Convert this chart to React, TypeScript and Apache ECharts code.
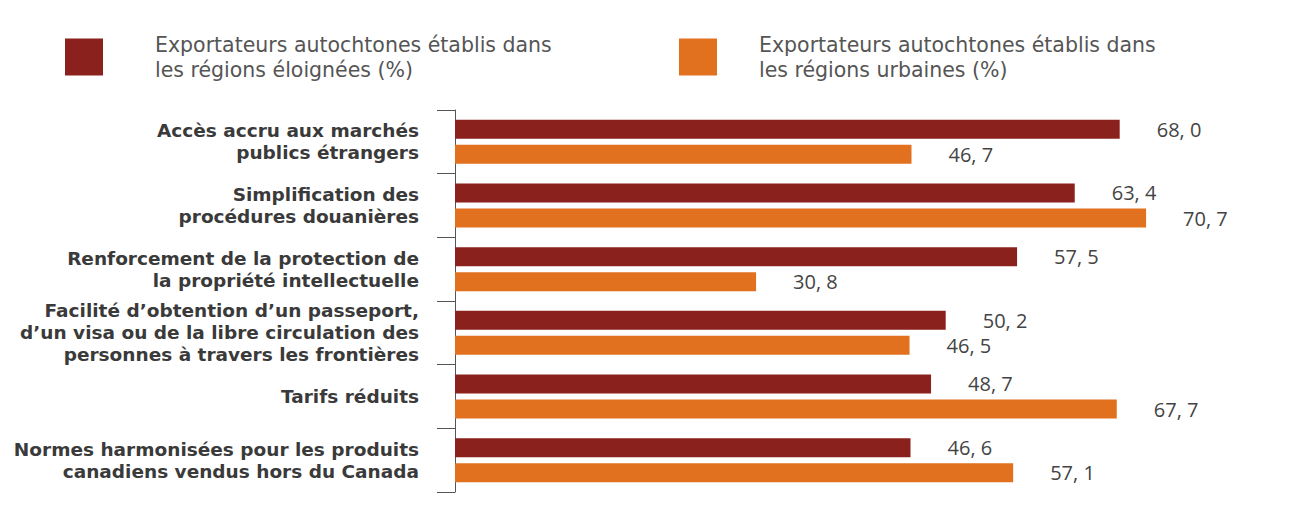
import React, { useEffect, useRef } from "react";
import * as echarts from "echarts";

const categories = [
  "Accès accru aux marchés\npublics étrangers",
  "Simplification des\nprocédures douanières",
  "Renforcement de la protection de\nla propriété intellectuelle",
  "Facilité d’obtention d’un passeport,\nd’un visa ou de la libre circulation des\npersonnes à travers les frontières",
  "Tarifs réduits",
  "Normes harmonisées pour les produits\ncanadiens vendus hors du Canada",
];
const seriesNames = [
  "Exportateurs autochtones établis dans\nles régions éloignées (%)",
  "Exportateurs autochtones établis dans\nles régions urbaines (%)",
];
const remoteValues = [68.0, 63.4, 57.5, 50.2, 48.7, 46.6];
const urbanValues = [46.7, 70.7, 30.8, 46.5, 67.7, 57.1];
const colors = ["#8a211d", "#e1701f"];

export default function App() {
  const ref = useRef<HTMLDivElement>(null);
  useEffect(() => {
    if (!ref.current) return;
    const chart = echarts.init(ref.current, null, { renderer: "svg" });
    const fmt = (p: any) => Number(p.value).toFixed(1).replace(".", ", ");
    const labelStyle = {
      show: true,
      position: "right",
      distance: 37,
      formatter: fmt,
      color: "#444",
      fontSize: 20,
      fontFamily: "Open Sans",
    };
    const legendText = (padLeft: number) => ({
      color: "#555",
      fontSize: 20.5,
      fontFamily: "DejaVu Sans",
      lineHeight: 25,
      padding: [0, 0, 0, padLeft],
    });
    const legendBase = {
      top: 27,
      icon: "rect",
      itemWidth: 38,
      itemHeight: 37,
      selectedMode: false,
    };
    chart.setOption({
      animation: false,
      legend: [
        { ...legendBase, left: 60, data: [seriesNames[0]], textStyle: legendText(47) },
        { ...legendBase, left: 674, data: [seriesNames[1]], textStyle: legendText(37) },
      ],
      grid: { left: 455, right: 67, top: 110, bottom: 26, containLabel: false },
      xAxis: {
        type: "value",
        min: 0,
        max: 80,
        show: false,
      },
      yAxis: [
        {
          type: "category",
          data: categories,
          inverse: true,
          offset: 18,
          axisLine: { show: true, lineStyle: { color: "#555", width: 1 } },
          axisTick: { show: true, length: 9, lineStyle: { color: "#555" } },
          axisLabel: {
            margin: 18,
            color: "#3a3a3a",
            fontSize: 18.5,
            fontWeight: "bold",
            fontFamily: "DejaVu Sans",
            lineHeight: 22,
            align: "right",
          },
        },
        {
          type: "category",
          data: categories,
          inverse: true,
          position: "left",
          offset: 18,
          axisLine: { show: false },
          axisTick: { show: true, inside: true, length: 10, lineStyle: { color: "#555" } },
          axisLabel: { show: false },
        },
      ],
      series: [
        {
          name: seriesNames[0],
          type: "bar",
          data: remoteValues,
          barWidth: 19,
          barGap: "32%",
          itemStyle: { color: colors[0] },
          label: labelStyle,
        },
        {
          name: seriesNames[1],
          type: "bar",
          data: urbanValues,
          barWidth: 19,
          barGap: "32%",
          itemStyle: { color: colors[1] },
          label: labelStyle,
        },
      ],
    });
    return () => chart.dispose();
  }, []);
  return (
    <div
      ref={ref}
      style={{ position: "fixed", left: 0, top: 0, width: 1304, height: 518, background: "#fff" }}
    />
  );
}
